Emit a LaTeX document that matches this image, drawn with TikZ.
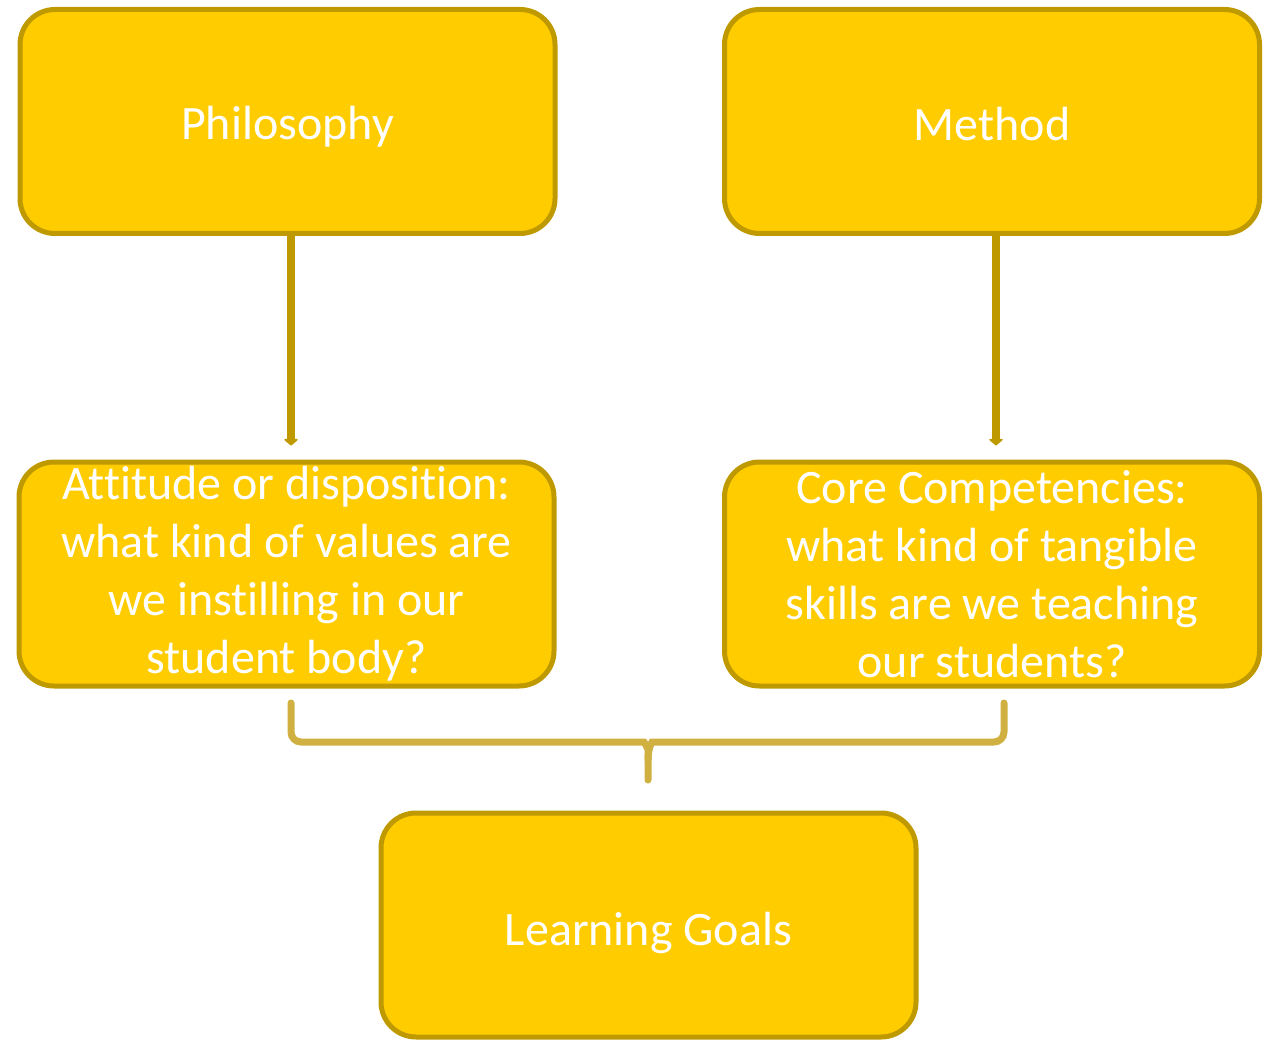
\documentclass[tikz,border=0pt]{standalone}
\usepackage{fontspec}
\setmainfont[Ligatures=NoCommon]{Carlito}
\usetikzlibrary{arrows.meta}
\definecolor{boxfill}{HTML}{FFCC00}
\definecolor{boxline}{HTML}{BF9900}
\definecolor{bracketcol}{HTML}{D0B040}
\newcommand{\lowered}[2]{\raisebox{-#1}[\height][\depth]{#2}}
\begin{document}
\begin{tikzpicture}[x=1pt,y=-1pt,
    goalbox/.style={draw=boxline, fill=boxfill, line width=5pt, rounded corners=35pt,
      minimum width=535pt, minimum height=224pt, text=white, align=center,
      font=\fontsize{48}{58}\selectfont, inner sep=0pt},
    downarrow/.style={draw=boxline, line width=8pt, -{Triangle[width=16pt,length=7pt,round]},
      shorten >=14pt},
    bracket/.style={draw=bracketcol, line width=7pt, line cap=round, rounded corners=10pt}]
		\useasboundingbox (0,0) rectangle (1271,1040);

		\node[goalbox] (phil) at (287.5,121.5) {\lowered{5pt}{Philosophy}};
		\node[goalbox] (meth) at (992,121.5) {\lowered{3pt}{Method}};
		\node[goalbox] (att) at (286.5,574) {Attitude or disposition:\\what kind of values are\\we instilling in our\\student body?};
		\node[goalbox] (core) at (992,574) {Core Competencies:\\what kind of tangible\\skills are we teaching\\our students?};
		\node[goalbox] (goals) at (648.5,925) {\lowered{8pt}{Learning Goals}};

		\draw[downarrow] ([xshift=3.5pt]phil.south) -- ([xshift=4.5pt]att.north);
		\draw[downarrow] ([xshift=4pt]meth.south) -- ([xshift=4pt]core.north);

		\coordinate (bl) at (291,703);
		\coordinate (br) at (1004,703);
		\coordinate (bm) at (648,780);
		\draw[bracket] (bl) -- (291,742) -- (634,742) .. controls (644,742) and (648,748) .. (648,760) -- (bm);
		\draw[bracket] (br) -- (1004,742) -- (662,742) .. controls (652,742) and (648,748) .. (648,760);
\end{tikzpicture}
\end{document}
